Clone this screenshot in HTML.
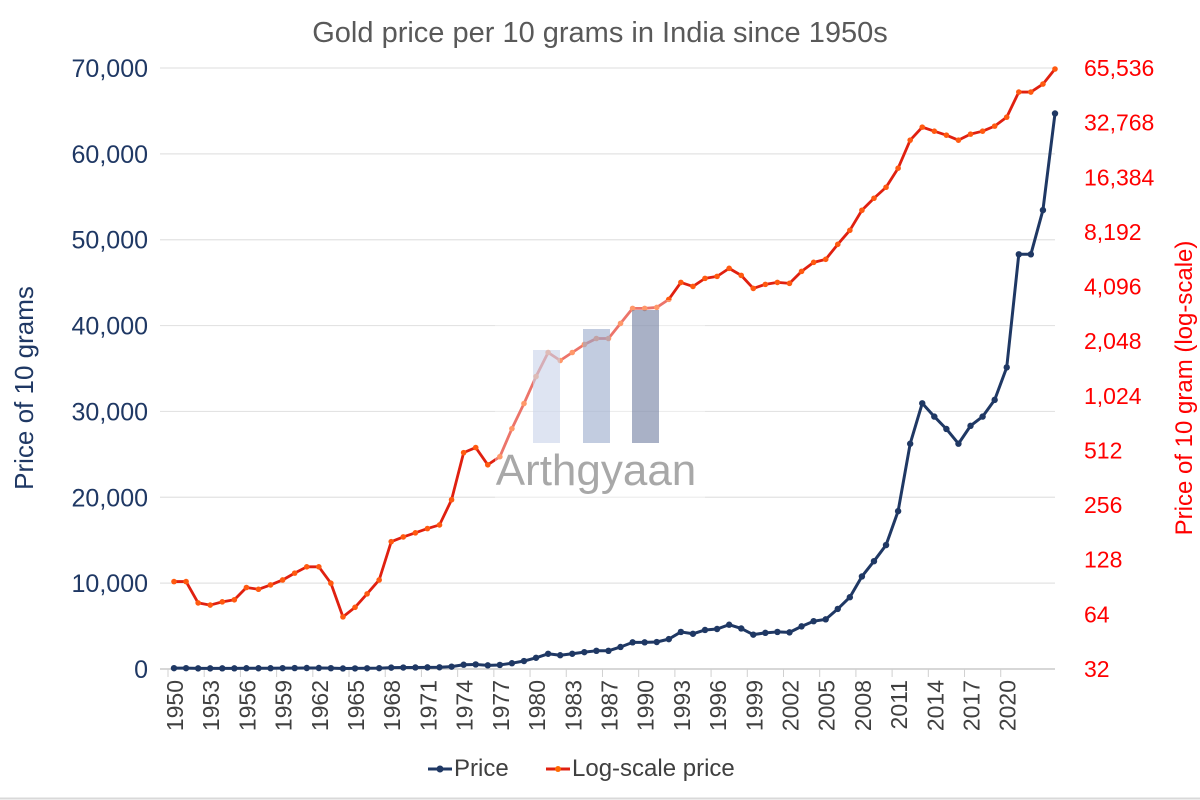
<!DOCTYPE html>
<html><head><meta charset="utf-8">
<style>
html,body{margin:0;padding:0;background:#fff;}
svg{display:block;font-family:"Liberation Sans",sans-serif;}
</style></head>
<body>
<svg id="chart" width="1200" height="800" viewBox="0 0 1200 800">
  <rect x="0" y="0" width="1200" height="800" fill="#fff"/>
  <line x1="0" y1="798.5" x2="1200" y2="798.5" stroke="#d9d9d9" stroke-width="2"/>
  <text x="600" y="42" text-anchor="middle" font-size="29" fill="#595959">Gold price per 10 grams in India since 1950s</text>
  <g id="grid"></g>
  <g id="leftTicks"></g>
  <g id="rightTicks"></g>
  <g id="xTicks"></g>
  <text transform="translate(33,388) rotate(-90)" text-anchor="middle" font-size="26" fill="#1f3864">Price of 10 grams</text>
  <text transform="translate(1192,388) rotate(-90)" text-anchor="middle" font-size="24" fill="#ff0000">Price of 10 gram (log-scale)</text>
  <g id="series"></g>
  <g opacity="0.75">
    <rect x="495" y="300" width="210" height="200" fill="#fff" opacity="0.5"/>
    <rect x="533" y="350" width="27" height="93" fill="#d3dcee"/>
    <rect x="583" y="329" width="27" height="114" fill="#aebbd6"/>
    <rect x="632" y="310" width="27" height="133" fill="#8d98b3"/>
    <text x="596" y="485" text-anchor="middle" font-size="44" fill="#8c8c8c">Arthgyaan</text>
  </g>
  <g>
    <g>
      <line x1="428" y1="769" x2="452" y2="769" stroke="#1f3864" stroke-width="3"/>
      <circle cx="440" cy="769" r="3.5" fill="#1f3864"/>
      <text x="454" y="776" font-size="24" fill="#404040">Price</text>
    </g>
    <g>
      <line x1="546" y1="769" x2="570" y2="769" stroke="#e02010" stroke-width="3"/>
      <circle cx="558" cy="769" r="3" fill="#ff6a00"/>
      <text x="572" y="776" font-size="24" fill="#404040">Log-scale price</text>
    </g>
  </g>
</svg>
<script>
const xLabels = ["1950","1953","1956","1959","1962","1965","1968","1971","1974","1977","1980","1983","1987","1990","1993","1996","1999","2002","2005","2008","2011","2014","2017","2020"];
const prices = [97,97,74,72,75,77,90,88,93,99,108,117,117,95,62,70,83,99,161,171,180,190,199,274,498,531,427,473,675,928,1308,1774,1603,1774,1964,2119,2119,2566,3104,3104,3143,3481,4317,4103,4544,4660,5159,4720,4000,4211,4317,4265,4966,5568,5785,6998,8361,10778,12557,14435,18384,26237,30950,29400,27955,26237,28320,29400,31347,35130,48300,48300,53450,64700];
const leftTicks = [0,10000,20000,30000,40000,50000,60000,70000];
const rightTicks = [32,64,128,256,512,1024,2048,4096,8192,16384,32768,65536];

const NS = "http://www.w3.org/2000/svg";
const X0 = 174, X1 = 1055, Y0 = 669, Y1 = 68;
const n = prices.length;
function xPos(i){ return X0 + (X1 - X0) * i / (n - 1); }
function yLin(v){ return Y0 - (Y0 - Y1) * v / 70000; }
function yLog(v){ return Y0 - (Y0 - Y1) * Math.log2(v / 32) / 11; }
function mk(tag, attrs, parent){ const e = document.createElementNS(NS, tag); for (const k in attrs) e.setAttribute(k, attrs[k]); parent.appendChild(e); return e; }
const fmt = v => v.toLocaleString("en-US");

const grid = document.getElementById("grid");
leftTicks.forEach(v => {
  const l = mk("line", {x1:160, x2:X1, y1:yLin(v), y2:yLin(v), stroke: v===0 ? "#bfbfbf" : "#e3e3e3", "stroke-width":1.2}, grid);
  
  
});
const lt = document.getElementById("leftTicks");
leftTicks.forEach(v => {
  const t = mk("text", {x:148, y:yLin(v)+9, "text-anchor":"end", "font-size":25, fill:"#1f3864"}, lt);
  t.textContent = fmt(v);
  
  
});
const rt = document.getElementById("rightTicks");
rightTicks.forEach(v => {
  const t = mk("text", {x:1084, y:yLog(v)+8, "font-size":23, fill:"#ff0000"}, rt);
  t.textContent = fmt(v);
  
  
});
const xt = document.getElementById("xTicks");
xLabels.forEach((s, k) => {
  const x = xPos(k * 3);
  const tk = mk("line", {x1:x-6, x2:x-6, y1:Y0, y2:Y0+8, stroke:"#d0d0d0"}, xt);
  
  
  const t = mk("text", {transform:`translate(${x+9},${Y0+11}) rotate(-90)`, "text-anchor":"end", "font-size":23, fill:"#404040"}, xt);
  t.textContent = s;
  
  
});

const series = document.getElementById("series");
const logPts = prices.map((v,i) => xPos(i)+","+yLog(v)).join(" ");
const lgLine = mk("polyline", {points:logPts, fill:"none", stroke:"#e02010", "stroke-width":2.8, "stroke-linejoin":"round"}, series);


prices.forEach((v,i) => {
  const c = mk("circle", {cx:xPos(i), cy:yLog(v), r:2.8, fill:"#ff5a10"}, series);
  
  
});
const pPts = prices.map((v,i) => xPos(i)+","+yLin(v)).join(" ");
const pLine = mk("polyline", {points:pPts, fill:"none", stroke:"#1f3864", "stroke-width":3, "stroke-linejoin":"round"}, series);


prices.forEach((v,i) => {
  const c = mk("circle", {cx:xPos(i), cy:yLin(v), r:3.2, fill:"#1f3864"}, series);
  
  
});
</script>
</body></html>
